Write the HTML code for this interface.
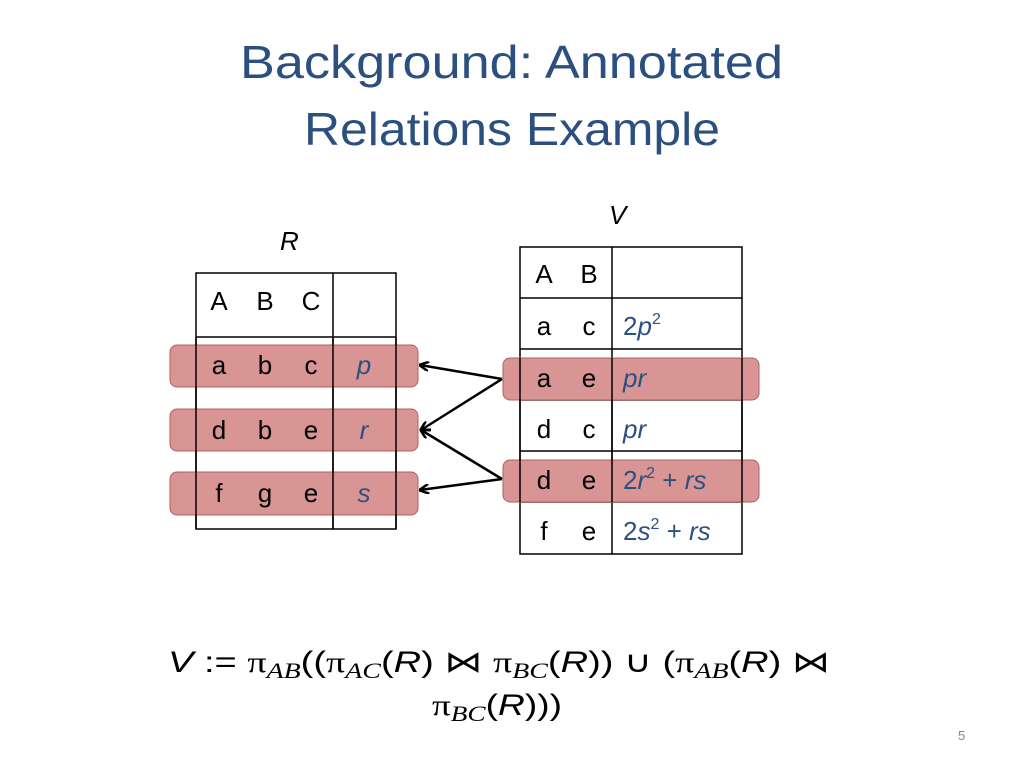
<!DOCTYPE html>
<html><head><meta charset="utf-8"><style>
html,body{margin:0;padding:0;background:#fff;}
svg{display:block;}
text{font-family:"Liberation Sans",sans-serif;}
</style></head><body>
<svg width="1024" height="768" viewBox="0 0 1024 768" xmlns="http://www.w3.org/2000/svg">
<defs><marker id="ah" markerWidth="10" markerHeight="10" refX="9" refY="5" orient="auto" markerUnits="userSpaceOnUse"><path d="M0,0 L10,5 L0,10" fill="none" stroke="#000" stroke-width="2.5"/></marker></defs>
<g fill="#2b5080" font-size="46">
<text x="240" y="78" textLength="543" lengthAdjust="spacingAndGlyphs">Background: Annotated</text>
<text x="304" y="145" textLength="416" lengthAdjust="spacingAndGlyphs">Relations Example</text>
</g>
<text x="280" y="250" font-size="26" font-style="italic">R</text>
<text x="609" y="224" font-size="26" font-style="italic">V</text>
<!-- R table -->
<g stroke="#000" stroke-width="1.5" fill="none">
<rect x="196" y="273" width="200" height="256" fill="#fff"/>
<line x1="196" y1="337" x2="396" y2="337"/>
<line x1="333" y1="273" x2="333" y2="529"/>
</g>
<g fill="#d99494" stroke="#b06060" stroke-width="1">
<rect x="170" y="345" width="248" height="42" rx="7"/>
<rect x="170" y="409" width="248" height="42" rx="7"/>
<rect x="170" y="472" width="248" height="43" rx="7"/>
</g>
<g stroke="#000" stroke-width="1.5"><line x1="196" y1="337" x2="196" y2="529"/><line x1="333" y1="337" x2="333" y2="529"/><line x1="396" y1="337" x2="396" y2="529"/></g>
<g font-size="26" text-anchor="middle">
<text x="219" y="310">A</text><text x="265" y="310">B</text><text x="311" y="310">C</text>
<text x="219" y="374">a</text><text x="265" y="374">b</text><text x="311" y="374">c</text>
<text x="219" y="439">d</text><text x="265" y="439">b</text><text x="311" y="439">e</text>
<text x="219" y="502">f</text><text x="265" y="502">g</text><text x="311" y="502">e</text>
</g>
<g font-size="26" text-anchor="middle" fill="#2b5080" font-style="italic">
<text x="364" y="374">p</text><text x="364" y="439">r</text><text x="364" y="502">s</text>
</g>
<!-- V table -->
<g stroke="#000" stroke-width="1.5" fill="none">
<rect x="520" y="247" width="222" height="307" fill="#fff"/>
<line x1="520" y1="298" x2="742" y2="298"/><line x1="520" y1="349" x2="742" y2="349"/>
<line x1="520" y1="400" x2="742" y2="400"/><line x1="520" y1="451" x2="742" y2="451"/>
<line x1="520" y1="502" x2="742" y2="502"/>
<line x1="612" y1="247" x2="612" y2="554"/>
</g>
<g fill="#d99494" stroke="#b06060" stroke-width="1">
<rect x="503" y="358" width="256" height="42" rx="7"/>
<rect x="503" y="460" width="256" height="42" rx="7"/>
</g>
<g stroke="#000" stroke-width="1.5"><line x1="520" y1="358" x2="520" y2="502"/><line x1="612" y1="358" x2="612" y2="502"/><line x1="742" y1="358" x2="742" y2="502"/></g>
<g font-size="26" text-anchor="middle">
<text x="544" y="283">A</text><text x="589" y="283">B</text>
<text x="544" y="335">a</text><text x="589" y="335">c</text>
<text x="544" y="387">a</text><text x="589" y="387">e</text>
<text x="544" y="438">d</text><text x="589" y="438">c</text>
<text x="544" y="489">d</text><text x="589" y="489">e</text>
<text x="544" y="540">f</text><text x="589" y="540">e</text>
</g>
<g font-size="26" fill="#2b5080">
<text x="623" y="335">2<tspan font-style="italic">p</tspan><tspan font-size="16" dy="-11">2</tspan></text>
<text x="623" y="387" font-style="italic">pr</text>
<text x="623" y="438" font-style="italic">pr</text>
<text x="623" y="489">2<tspan font-style="italic">r</tspan><tspan font-size="16" dy="-11">2</tspan><tspan dy="11"> + </tspan><tspan font-style="italic">rs</tspan></text>
<text x="623" y="540">2<tspan font-style="italic">s</tspan><tspan font-size="16" dy="-11">2</tspan><tspan dy="11"> + </tspan><tspan font-style="italic">rs</tspan></text>
</g>
<!-- arrows -->
<g stroke="#000" stroke-width="2.5" fill="none" marker-end="url(#ah)">
<line x1="502" y1="379" x2="420" y2="365"/>
<line x1="502" y1="379" x2="421" y2="430"/>
<line x1="502" y1="479" x2="421" y2="430"/>
<line x1="502" y1="479" x2="420" y2="490"/>
</g>
<!-- formula -->
<text x="168" y="672" font-size="30" textLength="662" lengthAdjust="spacingAndGlyphs"><tspan font-style="italic">V</tspan>  :=  <tspan font-family="Liberation Serif">π</tspan><tspan font-family="Liberation Serif" font-style="italic" font-size="22" dy="6">AB</tspan><tspan dy="-6">((</tspan><tspan font-family="Liberation Serif">π</tspan><tspan font-family="Liberation Serif" font-style="italic" font-size="22" dy="6">AC</tspan><tspan dy="-6">(</tspan><tspan font-style="italic">R</tspan>) ⋈ <tspan font-family="Liberation Serif">π</tspan><tspan font-family="Liberation Serif" font-style="italic" font-size="22" dy="6">BC</tspan><tspan dy="-6">(</tspan><tspan font-style="italic">R</tspan>)) ∪ (<tspan font-family="Liberation Serif">π</tspan><tspan font-family="Liberation Serif" font-style="italic" font-size="22" dy="6">AB</tspan><tspan dy="-6">(</tspan><tspan font-style="italic">R</tspan>) ⋈</text>
<text x="432" y="715" font-size="30" textLength="130" lengthAdjust="spacingAndGlyphs"><tspan font-family="Liberation Serif">π</tspan><tspan font-family="Liberation Serif" font-style="italic" font-size="22" dy="6">BC</tspan><tspan dy="-6">(</tspan><tspan font-style="italic">R</tspan>)))</text>
<text x="958" y="740" font-size="13" fill="#888">5</text>
</svg>
</body></html>
